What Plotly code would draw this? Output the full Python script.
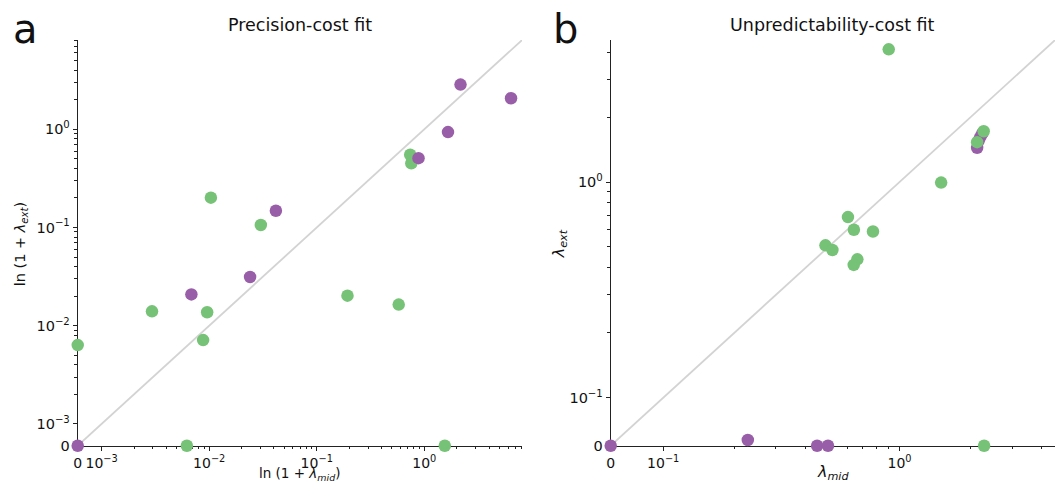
import numpy as np
import plotly.graph_objects as go

# ---------------- data ----------------
# Panel a: Precision-cost fit  (ln(1+lambda_mid), ln(1+lambda_ext))
a_green_x = [0.0, 0.00294, 0.00878, 0.00957, 0.01037, 0.0302, 0.193, 0.578, 0.739, 0.757, 0.0062, 1.55]
a_green_y = [0.00634, 0.0140, 0.00713, 0.0137, 0.201, 0.106, 0.0202, 0.0164, 0.55, 0.45, 0.0, 0.0]
a_purple_x = [0.0, 0.00683, 0.0240, 0.0417, 0.883, 1.66, 2.17, 6.40]
a_purple_y = [0.0, 0.0208, 0.0313, 0.148, 0.508, 0.937, 2.85, 2.07]

# Panel b: Unpredictability-cost fit  (lambda_mid, lambda_ext)
b_green_x = [0.90, 1.50, 2.27, 2.13, 2.28, 0.605, 0.641, 0.772, 0.486, 0.520, 0.663, 0.640]
b_green_y = [4.12, 0.994, 1.72, 1.53, 0.0, 0.688, 0.601, 0.590, 0.509, 0.484, 0.438, 0.413]
b_purple_x = [0.0, 0.228, 0.448, 0.498, 2.13, 2.16, 2.20, 2.24]
b_purple_y = [0.0, 0.012, 0.0, 0.0, 1.44, 1.55, 1.62, 1.68]

# axis settings (symlog emulation)
a_linthresh, a_lim = 1e-3, 8.1
b_linthresh, b_lim = 0.1, 4.55
LINSCALE = 0.2 / (1 - 1 / 10)

a_major = [0, 1e-3, 1e-2, 1e-1, 1e0]
a_major_text = ["0", "10<sup>−3</sup>", "10<sup>−2</sup>", "10<sup>−1</sup>", "10<sup>0</sup>"]
b_major = [0, 1e-1, 1e0]
b_major_text = ["0", "10<sup>−1</sup>", "10<sup>0</sup>"]

GREEN = "#76c276"
PURPLE = "#985ea8"


def symlog(v, t):
    v = np.asarray(v, dtype=float)
    return np.where(v <= t, v / t * LINSCALE, LINSCALE + np.log10(np.maximum(v, t) / t))


def minor_vals(t, lim):
    vals = []
    k = int(np.floor(np.log10(t)))
    while 10.0 ** k <= lim:
        for m in range(2, 10):
            v = m * 10.0 ** k
            if t < v <= lim:
                vals.append(v)
        k += 1
    return vals


W, H = 1062, 487
KY = 0.982  # vertical factor observed between the figure and the photographed page


def py2paper(py):
    """picture pixel row -> paper y"""
    return 1 - (py / KY) / H


fig = go.Figure()

for lim, t, xa, ya in [(a_lim, a_linthresh, "x", "y"), (b_lim, b_linthresh, "x2", "y2")]:
    d = symlog([0, lim], t)
    fig.add_trace(go.Scatter(x=d, y=d, mode="lines", line=dict(color="#d3d3d3", width=1.8),
                             xaxis=xa, yaxis=ya, showlegend=False, hoverinfo="skip"))

mk = dict(size=12.5, line=dict(width=0))
fig.add_trace(go.Scatter(x=symlog(a_green_x, a_linthresh), y=symlog(a_green_y, a_linthresh),
                         mode="markers", marker=dict(color=GREEN, **mk), cliponaxis=False,
                         xaxis="x", yaxis="y", showlegend=False))
fig.add_trace(go.Scatter(x=symlog(a_purple_x, a_linthresh), y=symlog(a_purple_y, a_linthresh),
                         mode="markers", marker=dict(color=PURPLE, **mk), cliponaxis=False,
                         xaxis="x", yaxis="y", showlegend=False))
fig.add_trace(go.Scatter(x=symlog(b_purple_x, b_linthresh), y=symlog(b_purple_y, b_linthresh),
                         mode="markers", marker=dict(color=PURPLE, **mk), cliponaxis=False,
                         xaxis="x2", yaxis="y2", showlegend=False))
fig.add_trace(go.Scatter(x=symlog(b_green_x, b_linthresh), y=symlog(b_green_y, b_linthresh),
                         mode="markers", marker=dict(color=GREEN, **mk), cliponaxis=False,
                         xaxis="x2", yaxis="y2", showlegend=False))


def axis(t, lim, major, text, domain, anchor, fsize):
    return dict(
        domain=domain, anchor=anchor,
        range=[0, float(symlog(lim, t))],
        tickmode="array", tickvals=list(symlog(major, t)), ticktext=text, tickangle=0,
        ticks="outside", ticklen=4, tickwidth=1, tickcolor="#222",
        minor=dict(tickmode="array", tickvals=list(symlog(minor_vals(t, lim), t)),
                   ticks="outside", ticklen=2.5, tickwidth=0.8, tickcolor="#222", showgrid=False),
        showline=True, linecolor="#222", linewidth=1,
        showgrid=False, zeroline=False, layer="below traces",
        tickfont=dict(family="DejaVu Sans", size=fsize, color="#111"),
    )


ydom = [py2paper(445), py2paper(40)]
fig.update_layout(
    width=W, height=H, autosize=False,
    margin=dict(l=0, r=0, t=0, b=0, pad=0),
    paper_bgcolor="white", plot_bgcolor="white",
    xaxis=axis(a_linthresh, a_lim, a_major, a_major_text, [74 / W, 520 / W], "y", 14),
    yaxis=axis(a_linthresh, a_lim, a_major, a_major_text, ydom, "x", 14.5),
    xaxis2=axis(b_linthresh, b_lim, b_major, b_major_text, [609 / W, 1055 / W], "y2", 14),
    yaxis2=axis(b_linthresh, b_lim, b_major, b_major_text, ydom, "x2", 14.5),
    font=dict(family="DejaVu Sans", color="#111"),
)


def ann(text, px, py, size, angle=0, yanchor="middle"):
    fig.add_annotation(text=text, x=px / W, y=py2paper(py) if py is not None else -0.011,
                       xref="paper", yref="paper",
                       showarrow=False, font=dict(size=size, family="DejaVu Sans", color="#111"),
                       textangle=angle, xanchor="center", yanchor=yanchor, borderpad=0)


ann("a", 22, 29, 40)
ann("b", 564, 29, 40)
ann("Precision-cost fit", 297, 25, 17.5)
ann("Unpredictability-cost fit", 832, 25, 17.5)
ann("ln (1 + <i>λ</i><sub><i>ext</i></sub>)", 17, 243, 14.5, -90)
ann("<i>λ</i><sub><i>ext</i></sub>", 557, 243, 16, -90)
ann("ln (1 + <i>λ</i><sub><i>mid</i></sub>)", 297, None, 13.5, yanchor="bottom")
ann("<i>λ</i><sub><i>mid</i></sub>", 832, None, 16, yanchor="bottom")

fig.write_html("out.html", config={"responsive": False})
